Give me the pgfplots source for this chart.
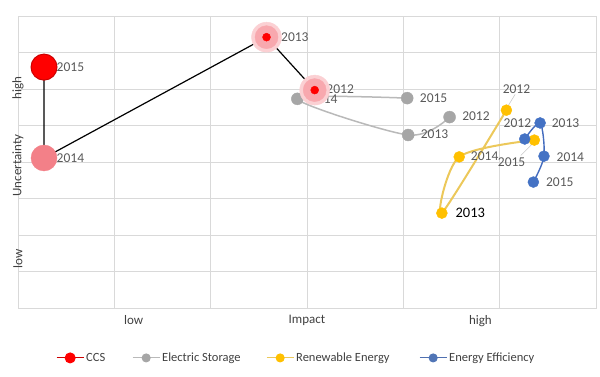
\documentclass[border=0pt]{standalone}
\usepackage{fontspec}
\setmainfont{Carlito}
\usepackage{pgfplots}
\pgfplotsset{compat=1.18}
\definecolor{gridc}{RGB}{217,217,217}
\definecolor{lab}{RGB}{89,89,89}
\definecolor{tick}{RGB}{64,64,64}
\definecolor{ccsred}{RGB}{255,0,0}
\definecolor{ccsdark}{RGB}{205,0,0}
\definecolor{ccspink}{RGB}{243,128,136}
\definecolor{ccslight}{RGB}{248,168,174}
\definecolor{ccshalo}{RGB}{251,208,211}
\definecolor{esgray}{RGB}{166,166,166}
\definecolor{esline}{RGB}{185,185,185}
\definecolor{reyel}{RGB}{255,192,0}
\definecolor{reline}{RGB}{236,200,90}
\definecolor{eeblue}{RGB}{68,114,196}
\definecolor{eeline}{RGB}{68,108,190}
\begin{document}
\begin{tikzpicture}[x=1pt,y=1pt]
\begin{axis}[
  at={(18pt,69pt)}, anchor=south west,
  width=578pt, height=292pt, scale only axis,
  xmin=0, xmax=6, ymin=0, ymax=8,
  xtick={0,...,6}, ytick={0,...,8},
  xticklabels={}, yticklabels={},
  major tick length=0pt,
  grid=major, grid style={gridc, line width=0.8pt},
  axis line style={gridc, line width=0.8pt},
  extra x ticks={1.2,3,4.8},
  extra x tick labels={low,Impact,high},
  extra x tick style={grid=none, major tick length=0pt,
    tick label style={font=\fontsize{13}{15}\selectfont, text=tick, yshift=-4pt}},
  clip=false,
  legend style={at={(0.0657,-0.171)}, anchor=west, draw=none, fill=none, inner sep=0pt,
    font=\fontsize{12.5}{14}\selectfont, text=tick,
    legend columns=4, /tikz/every even column/.append style={column sep=18pt}},
  legend cell align=left,
  legend image code/.code={
    \draw[mark repeat=2,mark phase=2,#1] plot coordinates {(0pt,0pt) (13.5pt,0pt) (27pt,0pt)};
  },
]
% Electric Storage
\addplot[esline, line width=1.5pt, smooth, forget plot] coordinates {(4.48,5.23)(4.05,4.74)(2.90,5.73)(4.04,5.75)};
\addplot[only marks, mark=*, mark size=6pt, color=esgray, mark options={fill=esgray}, forget plot] coordinates {(4.48,5.23)(4.05,4.74)(2.90,5.73)(4.04,5.75)};
% CCS
\addplot[black, line width=1.2pt, forget plot] coordinates {(3.08,5.97)(2.58,7.42)(0.27,4.11)(0.27,6.60)};
\addplot[only marks, mark=*, mark size=15pt, color=ccshalo, mark options={fill=ccshalo}, forget plot] coordinates {(3.08,5.97)(2.58,7.42)};
\addplot[only marks, mark=*, mark size=11.5pt, color=ccslight, mark options={fill=ccslight}, forget plot] coordinates {(3.08,5.97)(2.58,7.42)};
\addplot[only marks, mark=*, mark size=4pt, color=ccsred, mark options={fill=ccsred}, forget plot] coordinates {(3.08,5.97)(2.58,7.42)};
\addplot[only marks, mark=*, mark size=13pt, color=ccspink, mark options={fill=ccspink}, forget plot] coordinates {(0.27,4.11)};
\addplot[only marks, mark=*, mark size=13pt, color=ccsdark, mark options={fill=ccsred, line width=1pt}, forget plot] coordinates {(0.27,6.60)};
% Renewable Energy
\addplot[reline, line width=2pt, smooth, forget plot] coordinates {(5.07,5.42)(4.40,2.60)(4.58,4.14)(5.36,4.60)};
\addplot[only marks, mark=*, mark size=5.5pt, color=reyel, mark options={fill=reyel}, forget plot] coordinates {(5.07,5.42)(4.40,2.60)(4.58,4.14)(5.36,4.60)};
% Energy Efficiency
\addplot[eeline, line width=1.4pt, smooth, forget plot] coordinates {(5.26,4.63)(5.42,5.07)(5.46,4.16)(5.35,3.45)};
\addplot[only marks, mark=*, mark size=5.5pt, color=eeblue, mark options={fill=eeblue}, forget plot] coordinates {(5.26,4.63)(5.42,5.07)(5.46,4.16)(5.35,3.45)};
% legend
\addlegendimage{ccsdark, line width=1pt, mark=*, mark size=5pt, mark options={fill=ccsred, draw=ccsred}}
\addlegendentry{\makebox[26pt][l]{CCS}}
\addlegendimage{esline, line width=1pt, mark=*, mark size=4pt, mark options={fill=esgray, draw=esgray}}
\addlegendentry{\makebox[84pt][l]{Electric Storage}}
\addlegendimage{reline, line width=1pt, mark=*, mark size=4pt, mark options={fill=reyel, draw=reyel}}
\addlegendentry{\makebox[103pt][l]{Renewable Energy}}
\addlegendimage{eeline!80!gray, line width=1pt, mark=*, mark size=4pt, mark options={fill=eeblue!80!gray, draw=eeblue!80!gray}}
\addlegendentry{Energy Efficiency}
% leader lines
\draw[gridc!80!gray, line width=0.6pt] (axis cs:5.16,5.85) -- (axis cs:5.09,5.55);
\draw[gridc!80!gray, line width=0.6pt] (axis cs:5.22,4.18) -- (axis cs:5.34,4.50);
% data labels
\begin{scope}[every node/.style={anchor=west, text=lab, font=\fontsize{13.5}{15}\selectfont, inner sep=0pt}]
\node at (axis cs:0.40,6.60) {2015};
\node at (axis cs:0.40,4.11) {2014};
\node at (axis cs:2.73,7.42) {2013};
\node at (axis cs:3.20,5.99) {2012};
\node at (axis cs:3.03,5.71) {2014};
\node at (axis cs:4.17,5.75) {2015};
\node at (axis cs:4.61,5.26) {2012};
\node at (axis cs:4.18,4.77) {2013};
\node at (axis cs:5.03,6.00) {2012};
\node[text=black, font=\fontsize{14.5}{16}\selectfont] at (axis cs:4.54,2.60) {2013};
\node at (axis cs:4.70,4.16) {2014};
\node at (axis cs:4.98,4.00) {2015};
\node at (axis cs:5.04,5.07) {2012};
\node at (axis cs:5.54,5.07) {2013};
\node at (axis cs:5.59,4.14) {2014};
\node at (axis cs:5.48,3.45) {2015};
\end{scope}
% y axis texts
\node[rotate=90, text=tick, font=\fontsize{13}{15}\selectfont] at (axis cs:0,6.27) [xshift=-9pt] {high};
\node[rotate=90, text=tick, font=\fontsize{13}{15}\selectfont] at (axis cs:0,4.15) [xshift=-9pt] {Uncertainty};
\node[rotate=90, text=tick, font=\fontsize{13}{15}\selectfont] at (axis cs:0,1.60) [xshift=-9pt] {low};
\end{axis}
\pgfresetboundingbox
\path[use as bounding box] (0,0) rectangle (600pt,377pt);
\end{tikzpicture}
\end{document}
